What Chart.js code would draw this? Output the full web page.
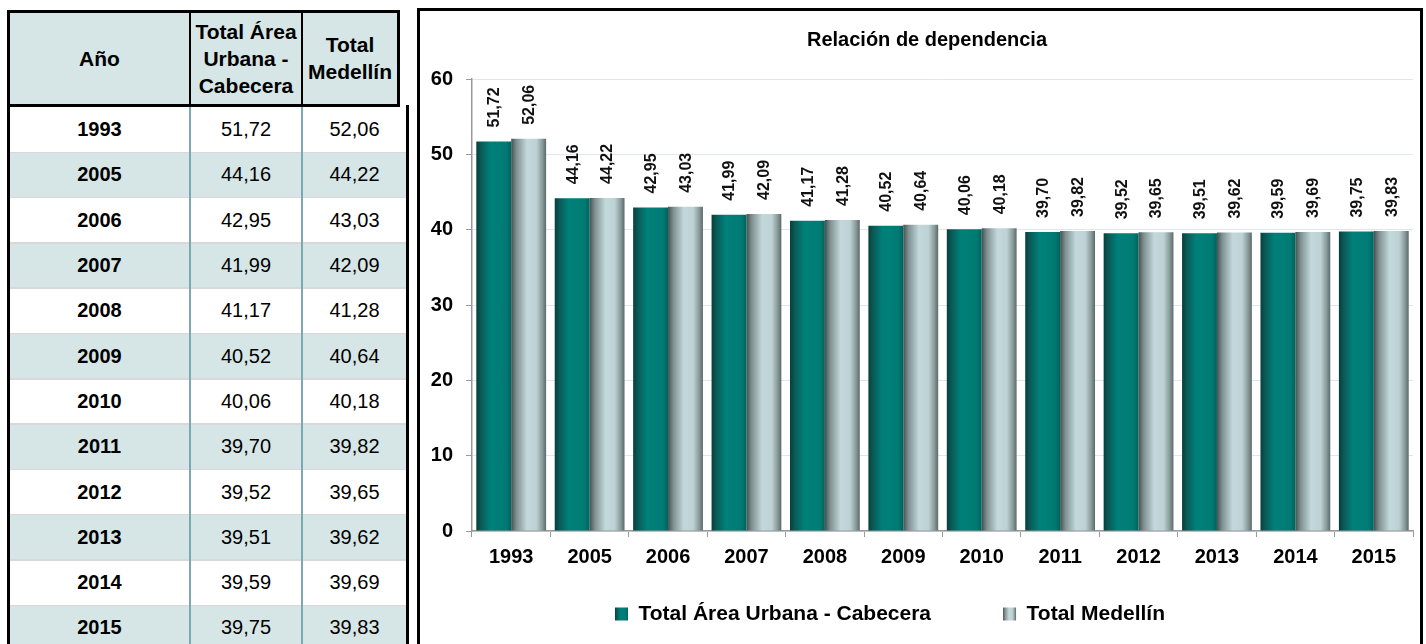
<!DOCTYPE html>
<html>
<head>
<meta charset="utf-8">
<script src="https://cdn.jsdelivr.net/npm/chart.js@4.4.1/dist/chart.umd.min.js"></script>
<style>
html,body{margin:0;padding:0;width:1426px;height:644px;overflow:hidden;background:#fff;font-family:Arial,"Liberation Sans",sans-serif;}
#tbl{position:absolute;left:0;top:0;width:420px;height:644px;}
.cell{display:flex;align-items:center;justify-content:center;text-align:center;color:#000;}
#box{position:absolute;left:417px;top:8px;width:1000px;height:700px;border:3px solid #000;}
#wrap{position:absolute;left:0;top:0;width:1000px;height:633px;}
</style>
</head>
<body>
<div id="tbl"></div>
<div id="box"><div id="wrap"><canvas id="c"></canvas></div></div>
<script>
// ---- data ----
const years = ['1993','2005','2006','2007','2008','2009','2010','2011','2012','2013','2014','2015'];
const urbana = [51.72,44.16,42.95,41.99,41.17,40.52,40.06,39.70,39.52,39.51,39.59,39.75];
const medellin = [52.06,44.22,43.03,42.09,41.28,40.64,40.18,39.82,39.65,39.62,39.69,39.83];
const seriesNames = ['Total Área Urbana - Cabecera','Total Medellín'];
const yTicks = [0,10,20,30,40,50,60];
const chartTitle = 'Relación de dependencia';
const tableHeaders = ['Año','Total Área<br>Urbana -<br>Cabecera','Total<br>Medellín'];

const fmt = v => v.toFixed(2).replace('.', ',');
const FAMILY = 'Arial, "Liberation Sans", sans-serif';

// ---- table (HTML) ----
const tbl = document.getElementById('tbl');
function box(l,t,w,h,style,html){
  const d=document.createElement('div');
  d.style.cssText=`position:absolute;left:${l}px;top:${t}px;width:${w}px;height:${h}px;${style||''}`;
  if(html!=null) d.innerHTML=html;
  tbl.appendChild(d); return d;
}
const ROW0 = 107, PITCH = 45.3;
const cols = [[10,179],[191,110],[303,103]];
years.forEach((y,k)=>{
  const top = ROW0 + k*PITCH;
  box(10, top, 396, PITCH, 'background:'+(k%2 ? '#d6e6e6' : '#ffffff'));
  if(k>0) box(10, top-0.75, 396, 1.5, 'background:#d8d8d8');
  const vals = [y, fmt(urbana[k]), fmt(medellin[k])];
  vals.forEach((v,ci)=>{
    const el = box(cols[ci][0], top, cols[ci][1], PITCH, 'font-size:20px;'+(ci===0?'font-weight:bold;':''), v);
    el.className='cell';
  });
});
box(189,107,2,540,'background:#7aa9af');
box(301,107,2,540,'background:#7aa9af');
box(406,105,2.5,545,'background:#000');
// header
box(10,12.5,387,91.5,'background:#d6e6e6');
box(7,10,393,2.5,'background:#000');
box(10,104,390,3,'background:#000');
box(189,12,2,92,'background:#000');
box(301,12,2,92,'background:#000');
box(397,10,3,97,'background:#000');
const hcols = [[10,179],[191,110],[303,94]];
tableHeaders.forEach((h,ci)=>{
  const el = box(hcols[ci][0], 12.5, hcols[ci][1], 91.5, 'font-size:21px;font-weight:bold;line-height:27px;', h);
  el.className='cell';
});
box(7,10,3,634,'background:#000');

// ---- chart ----
const CAT_PCT = 0.89;
const GRAD = [
  [[0,'#053f3c'],[0.12,'#0b5753'],[0.4,'#00807a'],[0.85,'#007b74'],[1,'#00625c']],
  [[0,'#46504f'],[0.15,'#7f9091'],[0.45,'#c2d8db'],[0.72,'#bed2d5'],[0.9,'#869797'],[1,'#5b6868']]
];
const SOLID = ['#00766f','#b3c8cb'];
function makeGrad(ctx, ds, left, w){
  const g = ctx.createLinearGradient(left,0,left+w,0);
  GRAD[ds].forEach(s=>g.addColorStop(s[0],s[1]));
  return g;
}
function barFill(c){
  const ds = c.datasetIndex;
  const chart = c.chart, xs = chart.scales && chart.scales.x;
  if(!xs || c.type!=='data') return SOLID[ds];
  const cat = (xs.right - xs.left)/years.length;
  const grp = cat*CAT_PCT, bw = grp/2;
  const left = xs.getPixelForValue(c.dataIndex) - grp/2 + ds*bw;
  if(!isFinite(left) || !(bw>0)) return SOLID[ds];
  return makeGrad(chart.ctx, ds, left, bw);
}

const LEG_P = 72, LEG_H = 67, LEG_ITEM_Y = 592.5, LEG_X = 195, TITLE_SHIFT = 10.5;
const placement = {
  id:'placement',
  beforeLayout(chart){
    const lg = chart.legend;
    if(lg && !lg.__p){
      const f = lg.fit;
      lg.fit = function(){ f.call(this); this.height = LEG_H; };
      lg.__p = true;
    }
  },
  afterLayout(chart){
    const lg = chart.legend;
    if(lg){ lg.top = LEG_ITEM_Y - LEG_P; lg.left = LEG_X - LEG_P; }
    const t = chart.titleBlock;
    if(t){ t.left += TITLE_SHIFT; t.right += TITLE_SHIFT; }
  },
  beforeDraw(chart){
    const lg = chart.legend;
    if(!lg || !lg.legendItems) return;
    lg.legendItems.forEach((it,i)=>{
      const hb = lg.legendHitBoxes[i];
      if(hb && isFinite(hb.left)) it.fillStyle = makeGrad(chart.ctx, it.datasetIndex, hb.left, 13);
    });
  }
};
const valueLabels = {
  id:'valueLabels',
  afterDatasetsDraw(chart){
    const ctx = chart.ctx;
    ctx.save();
    ctx.font = 'bold 16px ' + FAMILY;
    ctx.fillStyle = '#111';
    ctx.textAlign = 'left';
    ctx.textBaseline = 'middle';
    chart.data.datasets.forEach((ds,di)=>{
      chart.getDatasetMeta(di).data.forEach((el,i)=>{
        ctx.save();
        ctx.translate(el.x, el.y - 14);
        ctx.rotate(-Math.PI/2);
        ctx.fillText(fmt(ds.data[i]), 0, 1);
        ctx.restore();
      });
    });
    ctx.restore();
  }
};

new Chart(document.getElementById('c'), {
  type:'bar',
  data:{
    labels: years,
    datasets:[
      {label: seriesNames[0], data: urbana, backgroundColor: barFill, borderWidth:0, categoryPercentage:CAT_PCT, barPercentage:1},
      {label: seriesNames[1], data: medellin, backgroundColor: barFill, borderWidth:0, categoryPercentage:CAT_PCT, barPercentage:1}
    ]
  },
  options:{
    responsive:true,
    maintainAspectRatio:false,
    animation:false,
    events:[],
    layout:{padding:{left:0,right:7,top:0,bottom:0}},
    plugins:{
      title:{display:true, text:chartTitle, color:'#000', font:{size:20, weight:'bold', family:FAMILY}, padding:{top:17,bottom:27}},
      legend:{position:'bottom', align:'start', labels:{boxWidth:13, boxHeight:13, padding:LEG_P, color:'#000', font:{size:21, weight:'bold', family:FAMILY}}},
      tooltip:{enabled:false}
    },
    scales:{
      x:{
        ticks:{padding:8, color:'#000', font:{size:20, weight:'bold', family:FAMILY}, maxRotation:0, autoSkip:false},
        grid:{drawOnChartArea:false, tickLength:6, tickColor:'#9a9a9a', offset:true},
        border:{color:'#9a9a9a', width:1.5}
      },
      y:{
        min: yTicks[0], max: yTicks[yTicks.length-1],
        ticks:{stepSize: yTicks[1]-yTicks[0], padding:13, color:'#000', font:{size:20, weight:'bold', family:FAMILY}},
        grid:{color:'#dce8e9', tickColor:'#9a9a9a', tickLength:6, lineWidth:1},
        border:{color:'#9a9a9a', width:1.5},
        afterFit(s){ s.width = 52; }
      }
    }
  },
  plugins:[placement, valueLabels]
});
</script>
</body>
</html>
